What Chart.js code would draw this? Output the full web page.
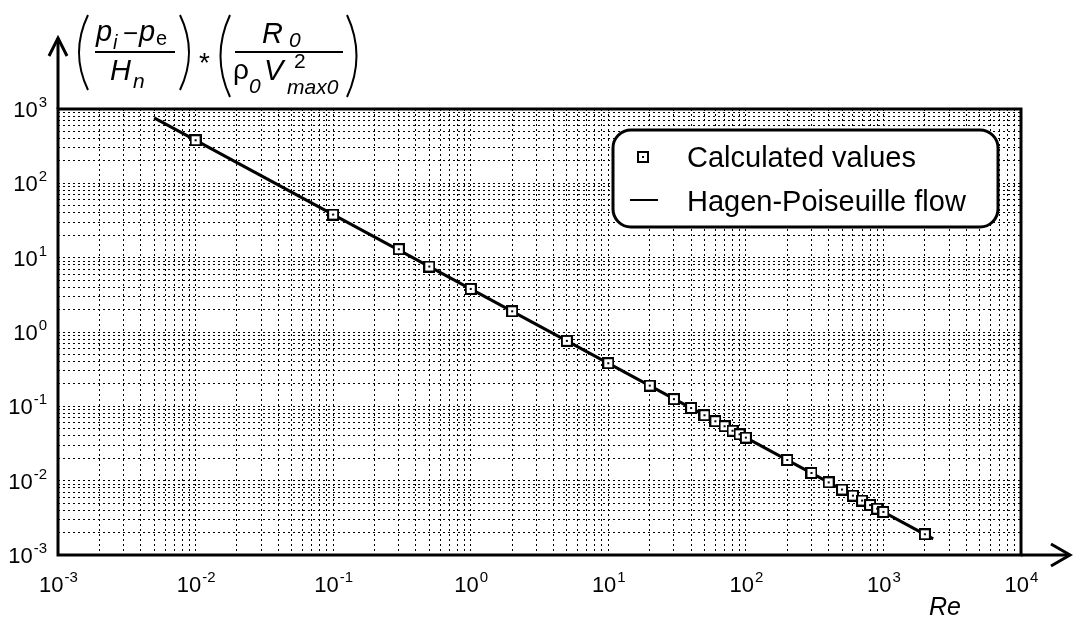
<!DOCTYPE html>
<html>
<head>
<meta charset="utf-8">
<script src="https://cdn.jsdelivr.net/npm/chart.js@4/dist/chart.umd.min.js"></script>
<style>
	body { margin: 0; background: #fff; }
</style>
</head>
<body>
<canvas id="flowChart" width="1073" height="617"></canvas>
<script>
const reValues = [0.01, 0.1, 0.3, 0.5, 1, 2, 5, 10, 20, 30, 40, 50, 60, 70, 80, 90, 100,
	200, 300, 400, 500, 600, 700, 800, 900, 1000, 2000];
const calcValues = [380, 38, 13, 7.6, 3.8, 1.9, 0.76, 0.38, 0.19, 0.125, 0.095, 0.076, 0.063, 0.054, 0.047, 0.042, 0.038,
	0.019, 0.0127, 0.0095, 0.0076, 0.0063, 0.0054, 0.0047, 0.0042, 0.0038, 0.0019];

// Hagen-Poiseuille line, end points
const lineRe = [0.005, 2300];
const lineValues = [760, 0.00165];

// decade labels 10^n
const xTickExps = [-3, -2, -1, 0, 1, 2, 3, 4];
const yTickExps = [-3, -2, -1, 0, 1, 2, 3];

const seriesLabels = ['Calculated values', 'Hagen-Poiseuille flow'];

const FONT = "'Liberation Sans', Arial, sans-serif";

const gridValues = (lo, hi) => {
	const out = [];
	for (let k = lo; k < hi; k++) {
		for (let m = 1; m <= 9; m++) out.push({value: Number(m + 'e' + k)});
	}
	out.push({value: Number('1e' + hi)});
	return out;
};

// square marker with a dot in the middle
const marker = document.createElement('canvas');
marker.width = 12;
marker.height = 12;
(() => {
	const c = marker.getContext('2d');
	c.fillStyle = '#fff';
	c.fillRect(1, 1, 10, 10);
	c.strokeStyle = '#000';
	c.lineWidth = 2;
	c.strokeRect(1, 1, 10, 10);
	c.fillStyle = '#000';
	c.fillRect(5, 5, 2, 2);
})();

const txt = (ctx, s, x, y, size, italic) => {
	ctx.font = (italic ? 'italic ' : '') + size + 'px ' + FONT;
	ctx.fillText(s, x, y);
	return ctx.measureText(s).width;
};

const paren = (ctx, x0, xm, y0, y1) => {
	ctx.beginPath();
	ctx.moveTo(x0, y0);
	ctx.quadraticCurveTo(xm, (y0 + y1) / 2, x0, y1);
	ctx.stroke();
};

const decorations = {
	id: 'decorations',
	beforeDraw(chart) {
		const ctx = chart.ctx;
		ctx.save();
		ctx.fillStyle = '#fff';
		ctx.fillRect(0, 0, chart.width, chart.height);
		ctx.restore();
	},
	afterDraw(chart) {
		const ctx = chart.ctx;
		const {left, right, top, bottom} = chart.chartArea;
		const xs = chart.scales.x, ys = chart.scales.y;
		ctx.save();
		ctx.strokeStyle = '#000';
		ctx.fillStyle = '#000';
		ctx.lineCap = 'butt';

		// frame
		ctx.lineWidth = 3;
		ctx.strokeRect(left, top, right - left, bottom - top);

		// axis arrows
		ctx.beginPath();
		ctx.moveTo(left, top);
		ctx.lineTo(left, 38);
		ctx.moveTo(right, bottom);
		ctx.lineTo(1070, bottom);
		ctx.stroke();
		ctx.lineJoin = 'miter';
		ctx.beginPath();
		ctx.moveTo(left - 9, 56);
		ctx.lineTo(left, 38);
		ctx.lineTo(left + 9, 56);
		ctx.moveTo(1051, bottom - 11);
		ctx.lineTo(1070, bottom);
		ctx.lineTo(1051, bottom + 11);
		ctx.stroke();

		// tick labels
		ctx.textAlign = 'left';
		ctx.textBaseline = 'alphabetic';
		xTickExps.forEach(e => {
			const px = xs.getPixelForValue(Math.pow(10, e));
			ctx.font = '22px ' + FONT;
			const w1 = ctx.measureText('10').width;
			ctx.font = '15px ' + FONT;
			const w2 = ctx.measureText(String(e)).width;
			const x0 = px - (w1 + w2) / 2;
			txt(ctx, '10', x0, 592, 22);
			txt(ctx, String(e), x0 + w1 + 1, 582, 15);
		});
		yTickExps.forEach(e => {
			const py = ys.getPixelForValue(Math.pow(10, e));
			ctx.font = '22px ' + FONT;
			const w1 = ctx.measureText('10').width;
			ctx.font = '15px ' + FONT;
			const w2 = ctx.measureText(String(e)).width;
			const x0 = 47 - w1 - w2 - 1;
			txt(ctx, '10', x0, py + 8, 22);
			txt(ctx, String(e), x0 + w1 + 1, py - 2, 15);
		});

		// x axis name
		txt(ctx, 'Re', 929, 615, 25, true);

		// y axis name: (p_i - p_e / H_n) * (R_0 / rho_0 V_max0^2)
		ctx.lineWidth = 2;
		paren(ctx, 88, 70, 15, 90);
		paren(ctx, 180, 198, 15, 90);
		paren(ctx, 230, 211, 15, 97);
		paren(ctx, 347, 366, 15, 97);
		ctx.beginPath();
		ctx.moveTo(95, 52);
		ctx.lineTo(175, 52);
		ctx.moveTo(235, 52);
		ctx.lineTo(343, 52);
		ctx.stroke();

		txt(ctx, 'p', 96, 41, 29, true);
		txt(ctx, 'i', 113, 49, 20, true);
		txt(ctx, '\u2212', 123, 42, 26);
		txt(ctx, 'p', 139, 41, 29, true);
		txt(ctx, 'e', 156, 45, 20);
		txt(ctx, 'H', 110, 80, 29, true);
		txt(ctx, 'n', 133, 88, 21, true);
		txt(ctx, '*', 199, 72, 28);
		txt(ctx, 'R', 262, 43, 29, true);
		txt(ctx, '0', 289, 47, 21, true);
		txt(ctx, '\u03c1', 233, 79, 28);
		txt(ctx, '0', 249, 93, 21, true);
		txt(ctx, 'V', 264, 80, 29, true);
		txt(ctx, '2', 294, 68, 21);
		txt(ctx, 'max0', 287, 94, 21, true);

		// legend
		const bx = 613, by = 130, bw = 385, bh = 97;
		ctx.lineWidth = 3;
		ctx.beginPath();
		ctx.roundRect(bx, by, bw, bh, 18);
		ctx.fillStyle = '#fff';
		ctx.fill();
		ctx.stroke();
		ctx.fillStyle = '#000';
		ctx.drawImage(marker, 637, 151);
		ctx.lineWidth = 2;
		ctx.beginPath();
		ctx.moveTo(630, 200);
		ctx.lineTo(658, 200);
		ctx.stroke();
		txt(ctx, chart.data.datasets[0].label, 687, 167, 29);
		txt(ctx, chart.data.datasets[1].label, 687, 211, 29);

		ctx.restore();
	}
};

const gridOpts = {
	color: '#000',
	lineWidth: 1,
	drawTicks: false
};

const config = {
	type: 'scatter',
	data: {
		datasets: [{
			label: seriesLabels[0],
			data: reValues.map((r, i) => ({x: r, y: calcValues[i]})),
			pointStyle: marker,
			pointRadius: 6,
			showLine: false,
			order: 0
		}, {
			label: seriesLabels[1],
			data: lineRe.map((r, i) => ({x: r, y: lineValues[i]})),
			showLine: true,
			borderColor: '#000',
			borderWidth: 3,
			pointRadius: 0,
			order: 1
		}]
	},
	options: {
		responsive: false,
		animation: false,
		devicePixelRatio: 1,
		layout: {padding: {left: 58, right: 52, top: 109, bottom: 62}},
		plugins: {
			legend: {display: false},
			tooltip: {enabled: false}
		},
		scales: {
			x: {
				type: 'logarithmic',
				min: 1e-3,
				max: 1e4,
				afterBuildTicks: (scale) => { scale.ticks = gridValues(-3, 4); },
				grid: gridOpts,
				border: {display: false, dash: [2, 3]},
				ticks: {display: false}
			},
			y: {
				type: 'logarithmic',
				min: 1e-3,
				max: 1e3,
				afterBuildTicks: (scale) => { scale.ticks = gridValues(-3, 3); },
				grid: gridOpts,
				border: {display: false, dash: [2, 3]},
				ticks: {display: false}
			}
		}
	},
	plugins: [decorations]
};

const ctx = document.getElementById('flowChart').getContext('2d');
const myChart = new Chart(ctx, config);
</script>
</body>
</html>
